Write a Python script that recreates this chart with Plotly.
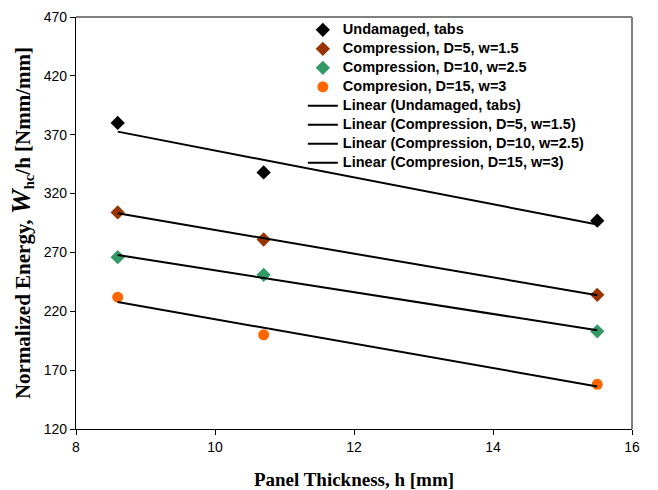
import numpy as np
import plotly.graph_objects as go

thickness = [8.6, 10.7, 15.5]
series_names = ["Undamaged, tabs", "Compression, D=5, w=1.5",
                "Compression, D=10, w=2.5", "Compresion, D=15, w=3"]
undamaged = [380, 338, 297]
comp_d5 = [304, 281, 234]
comp_d10 = [266, 251, 203]
comp_d15 = [232, 200, 158]
x_ticks = [8, 10, 12, 14, 16]
y_ticks = [120, 170, 220, 270, 320, 370, 420, 470]

series_values = [undamaged, comp_d5, comp_d10, comp_d15]
colors = ["#000000", "#993300", "#339966", "#FF6600"]
symbols = ["diamond", "diamond", "diamond", "circle"]
sizes = [11, 11, 11, 11]


def leg(txt):
    return "<b><span style='font-size:14.5px'>" + txt + "</span></b>"


fig = go.Figure()
for name, vals, c, s, sz in zip(series_names, series_values, colors, symbols, sizes):
    fig.add_trace(go.Scatter(x=thickness, y=vals, mode="markers", name=leg(name),
                             marker=dict(color=c, symbol=s, size=sz, line=dict(width=0))))
for name, vals in zip(series_names, series_values):
    k, b = np.polyfit(thickness, vals, 1)
    xs = [thickness[0], thickness[-1]]
    fig.add_trace(go.Scatter(x=xs, y=[k * v + b for v in xs], mode="lines",
                             name=leg("Linear (" + name + ")"),
                             line=dict(color="black", width=2)))

fig.update_layout(
    width=658, height=490,
    margin=dict(l=76, r=26, t=17, b=61),
    paper_bgcolor="white", plot_bgcolor="white",
    showlegend=True,
    legend=dict(x=0.408, y=1.004, xanchor="left", yanchor="top",
                bgcolor="rgba(0,0,0,0)", tracegroupgap=0,
                font=dict(family="Liberation Sans", size=11, color="black", weight="bold")),
    xaxis=dict(range=[8, 16], tickvals=x_ticks, ticktext=[str(v) for v in x_ticks],
               showgrid=False, zeroline=False, showline=True, linecolor="black", linewidth=1.2,
               ticks="outside", ticklen=5, tickcolor="black", automargin=False,
               tickfont=dict(family="Liberation Sans", size=14, color="black"),
               title=dict(text="<b>Panel Thickness, h [mm]</b>",
                          font=dict(family="Liberation Serif", size=19, color="black"),
                          standoff=22)),
    yaxis=dict(range=[120, 470], tickvals=y_ticks, ticktext=[str(v) for v in y_ticks],
               showgrid=False, zeroline=False, showline=True, linecolor="black", linewidth=1.2,
               ticks="outside", ticklen=5, tickcolor="black", automargin=False,
               tickfont=dict(family="Liberation Sans", size=14, color="black"),
               title=dict(text="<b>Normalized Energy, <i><span style='font-size:28px'>W</span></i><sub>hc</sub>/h [Nmm/mm]</b>",
                          font=dict(family="Liberation Serif", size=21, color="black"),
                          standoff=7)),
    shapes=[
        dict(type="line", xref="paper", yref="paper", x0=0, x1=1, y0=1, y1=1,
             line=dict(color="#808080", width=2)),
        dict(type="line", xref="paper", yref="paper", x0=1, x1=1, y0=0, y1=1,
             line=dict(color="#808080", width=2)),
    ],
)

fig.write_html("out.html")
